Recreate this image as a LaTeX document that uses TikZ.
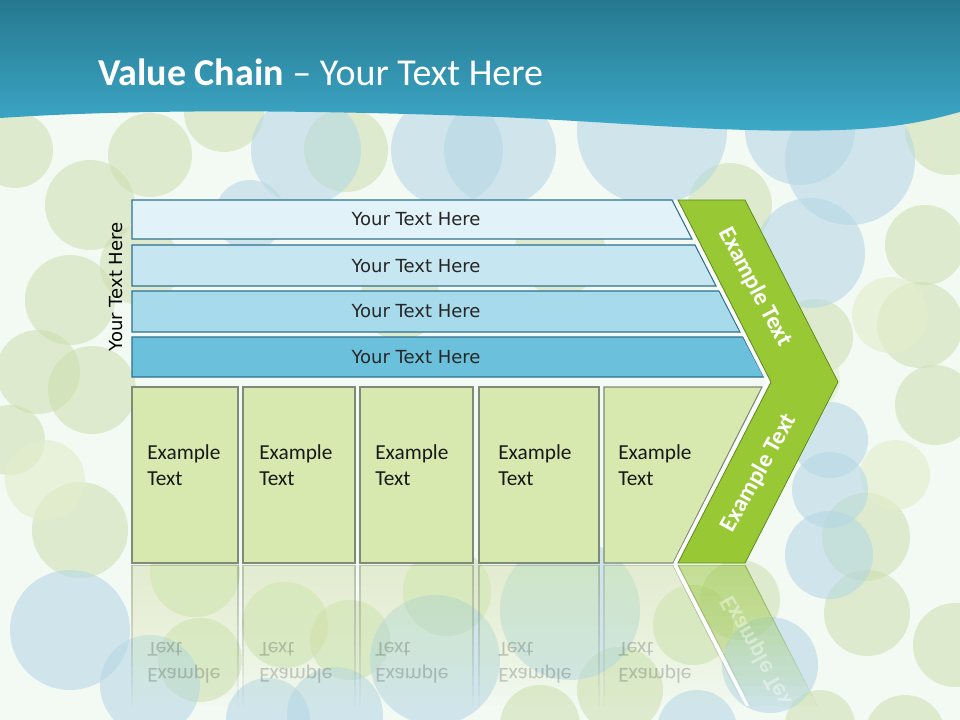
\documentclass[tikz,border=0pt]{standalone}
\usepackage{fontspec}
\setmainfont{Carlito}
\newfontfamily\verd{DejaVu Sans}
\definecolor{bgbase}{HTML}{F3F9F3}
\definecolor{cgreen}{HTML}{CCDFAE}
\definecolor{cblue}{HTML}{B3D6E5}
\definecolor{clgreen}{HTML}{E2EECB}
\definecolor{hdtop}{HTML}{25788F}
\definecolor{hdbot}{HTML}{3EAACA}
\definecolor{barA}{HTML}{E1F2F8}
\definecolor{barB}{HTML}{C6E7F1}
\definecolor{barC}{HTML}{A7DAEA}
\definecolor{barD}{HTML}{6BC1DB}
\definecolor{barline}{HTML}{2E7190}
\definecolor{boxfill}{HTML}{D8E9B0}
\definecolor{boxline}{HTML}{7D8B78}
\definecolor{chev}{HTML}{98C934}
\definecolor{chevline}{HTML}{5E8A1E}
\newcommand\vcShapes{%
  \path[greenbox] (132,387) rectangle (238,563);
  \path[greenbox] (243,387) rectangle (355,563);
  \path[greenbox] (360,387) rectangle (473,563);
  \path[greenbox] (479,387) rectangle (599,563);
  \path[greenbox] (604,387) -- (762,387) -- (673,563) -- (604,563) -- cycle;
  \draw[white, line width=2.2pt, opacity=0.85] (675,200) -- (768,382) -- (675,563);
  \path[chevshape] (678,200) -- (745,200) -- (838,382) -- (745,563) -- (678,563) -- (771,382) -- cycle;
}
\newcommand\vcBoxTexts[1]{%
  \node[boxtext] (#1t1) at (147,465) {Example\\Text};
  \node[boxtext] (#1t2) at (259,465) {Example\\Text};
  \node[boxtext] (#1t3) at (375,465) {Example\\Text};
  \node[boxtext] (#1t4) at (498,465) {Example\\Text};
  \node[boxtext] (#1t5) at (618,465) {Example\\Text};
}
\begin{document}
\begin{tikzpicture}[x=0.75pt,y=-0.75pt,
  barbox/.style={draw=barline, line width=0.8pt},
  bartext/.style={font=\verd\fontsize{13.5}{16}\selectfont, text=black!85},
  greenbox/.style={fill=boxfill, draw=boxline, line width=0.8pt},
  boxtext/.style={font=\fontsize{16}{19.5}\selectfont, align=left, anchor=west, text=black!90, inner sep=0pt},
  chevshape/.style={fill=chev, draw=chevline, line width=0.6pt},
  chevtext/.style={font=\bfseries\fontsize{18}{20}\selectfont, text=white, inner sep=0pt},
  mirror/.style={shift={(0,1128)}, yscale=-1, transform shape}]
\useasboundingbox (0,0) rectangle (960,720);
\clip (0,0) rectangle (960,720);
\fill[bgbase] (0,0) rectangle (960,720);
% background bubbles
\foreach \x/\y/\r in {15/150/38, 90/205/45, 150/155/42, 224/112/40, 346/150/42, 70/300/45, 38/372/42, 92/390/44, 10/440/35, 80/530/48, 195/572/45, 200/660/42, 285/625/43, 350/640/40, 447/592/44, 540/725/40, 620/690/43, 693/625/40, 740/600/40, 730/205/42, 950/130/45, 925/245/40, 920/325/43, 815/337/38, 935/405/40, 866/537/44, 955/645/42, 867/613/43, 820/725/35, 905/735/40, 140/265/40, 560/250/45, 400/300/40}
  \fill[cgreen, opacity=0.55] (\x,\y) circle[radius=\r];
\foreach \x/\y/\r in {890/315/38, 810/380/30, 895/475/35, 45/480/40, 175/500/40}
  \fill[clgreen, opacity=0.6] (\x,\y) circle[radius=\r];
\foreach \x/\y/\r in {306/150/55, 447/150/56, 500/150/56, 652/130/75, 800/130/55, 850/160/65, 810/253/55, 250/215/35, 830/440/38, 830/490/38, 829/555/44, 770/665/48, 697/730/40, 70/630/60, 150/685/50, 268/720/42, 335/715/48, 435/660/65, 570/610/70}
  \fill[cblue, opacity=0.55] (\x,\y) circle[radius=\r];
% header band
\shade[top color=hdtop, bottom color=hdbot]
  (0,0) -- (960,0) -- (960,112)
  .. controls (930,120) and (900,128) .. (840,130)
  .. controls (720,134) and (600,120) .. (470,116)
  .. controls (330,111) and (150,108) .. (0,118) -- cycle;
\node[anchor=base west, text=white, font=\fontsize{28.5}{34}\selectfont, inner sep=0pt] (title) at (98,86) {\textbf{Value Chain} – Your Text Here};
% bars
\path[barbox, fill=barA] (132,200) -- (672,200) -- (692,239) -- (132,239) -- cycle;
\path[barbox, fill=barB] (132,245) -- (695,245) -- (716,286) -- (132,286) -- cycle;
\path[barbox, fill=barC] (132,291) -- (719,291) -- (740,332) -- (132,332) -- cycle;
\path[barbox, fill=barD] (132,337) -- (743,337) -- (764,377) -- (132,377) -- cycle;
\node[bartext] (b1) at (416,219) {Your Text Here};
\node[bartext] (b2) at (416,266) {Your Text Here};
\node[bartext] (b3) at (416,311) {Your Text Here};
\node[bartext] (b4) at (416,357) {Your Text Here};
\node[bartext, text=black, rotate=90] (side) at (116,287) {Your Text Here};
% lower part
\vcShapes
\vcBoxTexts{}
\node[chevtext, rotate=-62] (c1) at (755,287) {Example Text};
\node[chevtext, rotate=61] (c2) at (759,473) {Example Text};
% reflection: stacked layers, each reaching less far down
\foreach \i in {0,...,13} {
  \begin{scope}
    \clip (0,565) rectangle (960,{705-10*\i});
    \begin{scope}[opacity=0.042]
      \begin{scope}[mirror]
        \vcShapes
      \end{scope}
    \end{scope}
  \end{scope}
}
\begin{scope}[opacity=0.22]
  \begin{scope}[mirror]
    \vcBoxTexts{r}
  \end{scope}
\end{scope}
\begin{scope}
  \clip (0,565) rectangle (960,700);
  \begin{scope}[opacity=0.4]
    \begin{scope}[mirror]
      \node[chevtext, rotate=61] (rc2) at (759,473) {Example Text};
    \end{scope}
  \end{scope}
\end{scope}
\end{tikzpicture}
\end{document}
